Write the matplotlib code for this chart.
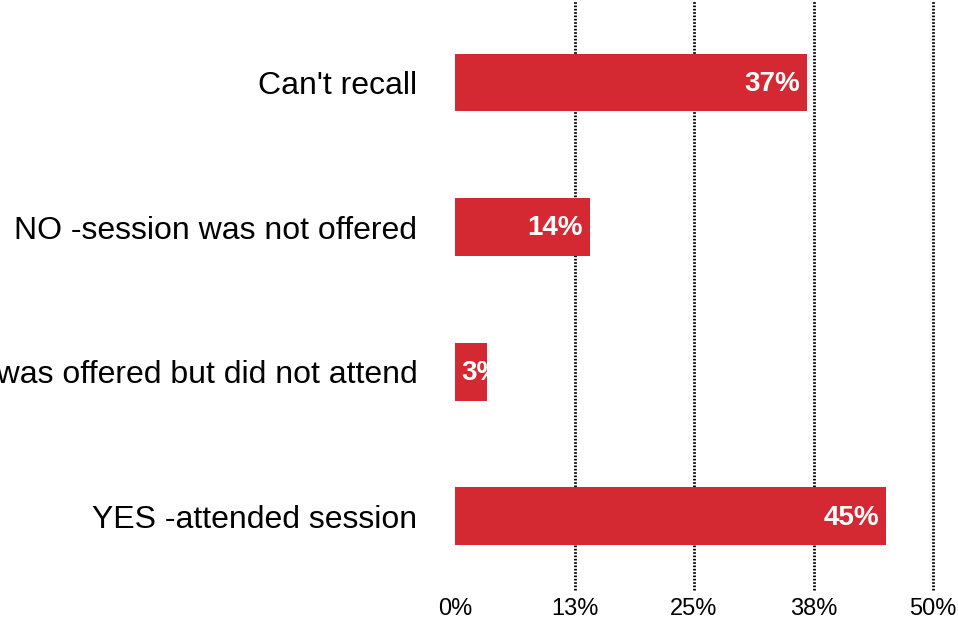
import matplotlib.pyplot as plt

plt.rcParams['font.family'] = ['Liberation Sans', 'DejaVu Sans']

# datos (de abajo hacia arriba)
categorias = ['YES -attended session',
              'NO -session was offered but did not attend',
              'NO -session was not offered',
              "Can't recall"]
valores = [45.1, 3.3, 14.1, 36.8]
ticks = [0, 12.5, 25, 37.5, 50]
tick_labels = ['0%', '13%', '25%', '38%', '50%']

rojo = '#d42833'

fig = plt.figure(figsize=(9.58, 6.24), dpi=100)
ax = fig.add_axes([455 / 958, 34 / 624, 478 / 958, 590 / 624])

pos = list(range(len(categorias)))
barras = ax.barh(pos, valores, height=0.4, color=rojo, zorder=2)

# lineas punteadas de la cuadricula
for t in ticks[1:]:
    ax.axvline(t, color='black', lw=2, linestyle=(0, (0.6, 0.6)),
               zorder=1, clip_on=False)

# etiquetas dentro de las barras, recortadas a la barra
for b, v in zip(barras, valores):
    y = b.get_y() + b.get_height() / 2
    if v < 6:
        # barra corta: el texto empieza al inicio y se corta
        txt = ax.annotate(f'{round(v):.0f}%', xy=(0, y), xytext=(4.5, -1),
                          textcoords='offset points', ha='left', va='center',
                          color='white', fontsize=20, fontweight='bold', zorder=3)
    else:
        txt = ax.annotate(f'{round(v):.0f}%', xy=(v, y), xytext=(-5, -1),
                          textcoords='offset points', ha='right', va='center',
                          color='white', fontsize=20, fontweight='bold', zorder=3)
    txt.set_clip_path(b)

ax.set_xlim(0, 50)
ax.set_ylim(-0.51, 3.57)
ax.set_yticks(pos)
ax.set_yticklabels(categorias, fontsize=23)
ax.set_xticks(ticks)
ax.set_xticklabels(tick_labels, fontsize=17)
ax.tick_params(axis='y', length=0, pad=27)
ax.tick_params(axis='x', length=0, pad=6)
for s in ax.spines.values():
    s.set_visible(False)

fig.savefig('out.png', dpi=100)
